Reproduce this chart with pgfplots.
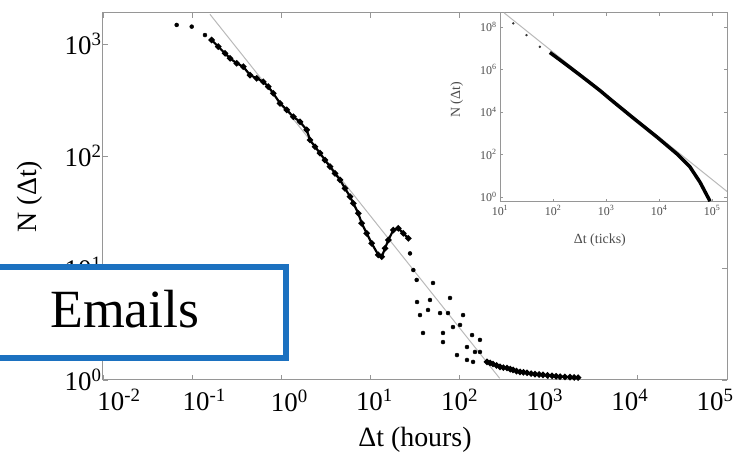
\documentclass[border=0pt]{standalone}
\usepackage{fontspec}
\setmainfont{Liberation Serif}
\usepackage{pgfplots}
\pgfplotsset{compat=1.18}
\definecolor{boxblue}{RGB}{28,113,192}
\definecolor{axgray}{RGB}{150,150,150}
\definecolor{fitgray}{RGB}{185,185,185}
\newcommand{\lsh}[2]{\hspace*{#1bp}#2}
\newcommand{\rsh}[2]{#2\hspace*{#1bp}}

\begin{document}
\begin{tikzpicture}[x=1bp,y=1bp]
\path[use as bounding box] (0,0) rectangle (736,461);

% main panel: inter-event times of emails
\begin{axis}[
  at={(103bp,81bp)}, anchor=south west,
  width=624bp, height=367bp, scale only axis,
  xmode=log, ymode=log,
  xmin=1e-2, xmax=1e5, ymin=1, ymax=1892,
  xtick={1e-2,1e-1,1,10,100,1000,1e4,1e5},
  xticklabels={\lsh{32}{10\textsuperscript{-2}},\lsh{24}{10\textsuperscript{-1}},\lsh{16}{10\textsuperscript{0}},\lsh{8}{10\textsuperscript{1}},10\textsuperscript{2},\rsh{8}{10\textsuperscript{3}},\rsh{16}{10\textsuperscript{4}},\rsh{24}{10\textsuperscript{5}}},
  ytick={1,10,100,1000},
  yticklabels={10\textsuperscript{0},10\textsuperscript{1},10\textsuperscript{2},10\textsuperscript{3}},
  xminorticks=false, yminorticks=false,
  tick align=inside, major tick length=5bp,
  axis line style={axgray, line width=1bp},
  every tick/.style={axgray, line width=0.8bp},
  ticklabel style={font=\fontsize{27}{29}\selectfont},
  xticklabel style={yshift=-6bp},
  yticklabel style={xshift=2bp},
  xlabel={Δt (hours)},
  ylabel={N (Δt)},
  label style={font=\fontsize{28}{30}\selectfont},
  xlabel style={at={(axis description cs:0.5,-0.1635)}, anchor=center},
  ylabel style={at={(axis description cs:-0.117,0.5)}, anchor=center},
]
% power-law guide, slope -1
\addplot[fitgray, line width=1bp] coordinates {(0.1585,1841) (281.8,1.035)};
% measured distribution: sparse head
\addplot[only marks, mark=*, mark size=2bp, black] coordinates {
(0.0671,1479) (0.0989,1429) (0.1393,1202) (0.1656,1086)
};
% dense part of the decay, down to the daily peak
\addplot[black, line width=2.2bp, mark=*, mark size=1.9bp] coordinates {
(0.1656,1086) (0.1963,946)
(0.2339,826) (0.2661,745) (0.3162,673) (0.3750,627) (0.4457,528)
(0.5297,494) (0.6281,460) (0.7145,416) (0.8128,363) (0.9683,295)
(1.151,258) (1.365,224) (1.622,202) (1.928,171) (2.099,139)
(2.388,121) (2.716,106) (3.090,92.0) (3.524,80.4) (4.009,70.0)
(4.560,61.1) (5.188,51.4) (5.902,43.4) (6.427,37.8) (7.311,30.8)
(7.980,25.1) (9.078,20.4) (10.33,16.6) (12.25,13.1) (13.40,12.6)
(14.59,15.0) (15.89,17.8) (18.07,21.8) (20.56,22.6) (23.39,20.4)
(26.61,18.4)
};
% scattered region after the peak
\addplot[only marks, mark=*, mark size=2bp, black] coordinates {
(27.80,13.5) (30.27,9.59) (33.04,7.82)
(50.35,7.35) (33.34,4.97) (46.56,5.18) (78.16,5.40) (35.97,3.80)
(44.26,4.22) (60.39,3.96) (74.13,3.96) (109.4,3.80) (38.90,2.63)
(65.16,2.63) (84.33,2.97) (101.2,3.10) (65.16,2.18) (121.1,1.97)
(138.0,2.52) (169.4,2.28) (93.54,1.67) (148.9,1.78) (169.4,1.78)
(141.6,1.45) (121.1,1.51)
};
% long tail
\addplot[black, line width=2.2bp, mark=*, mark size=1.9bp] coordinates {
(203.2,1.45) (220.0,1.42) (237.1,1.39) (260.0,1.35) (284.4,1.31)
(310.0,1.29) (340.4,1.28) (370.0,1.25) (398.1,1.23) (435.0,1.20)
(476.4,1.18) (520.0,1.17) (571.5,1.16) (635.0,1.14) (701.5,1.13)
(780.0,1.12) (863.0,1.11) (970.0,1.10) (1089,1.09) (1210,1.08)
(1340,1.07) (1520,1.065) (1734,1.06) (1930,1.055) (2138,1.05)
};
\end{axis}

% inset: simulated waiting times
\begin{axis}[
  at={(500bp,259bp)}, anchor=south west,
  width=227bp, height=189bp, scale only axis,
  axis background/.style={fill=white},
  xmode=log, ymode=log,
  xmin=10, xmax=190546, ymin=0.582, ymax=4.57e8,
  xtick={10,100,1000,1e4,1e5},
  xticklabels={10\textsuperscript{1},10\textsuperscript{2},10\textsuperscript{3},10\textsuperscript{4},10\textsuperscript{5}},
  ytick={1,100,1e4,1e6,1e8},
  yticklabels={10\textsuperscript{0},10\textsuperscript{2},10\textsuperscript{4},10\textsuperscript{6},10\textsuperscript{8}},
  xminorticks=false, yminorticks=false,
  tick align=inside, major tick length=3bp,
  axis line style={axgray, line width=1bp},
  every tick/.style={axgray, line width=0.6bp},
  ticklabel style={font=\fontsize{12}{13}\selectfont, text=black!70},
  xlabel={Δt (ticks)},
  ylabel={N (Δt)},
  label style={font=\fontsize{14}{15}\selectfont, text=black!70},
  xlabel style={at={(axis description cs:0.44,-0.20)}, anchor=center},
  ylabel style={at={(axis description cs:-0.19,0.54)}, anchor=center},
]
% power-law guide, slope -2
\addplot[fitgray, line width=1bp] coordinates {(12.02,4.57e8) (190500,1.82)};
\addplot[only marks, mark=*, mark size=1bp, black!80] coordinates {
(17.78,1.479e8) (31.62,4.169e7) (56.23,1.175e7)
};
\addplot[black, line width=3.5bp] coordinates {
(87.10,6.310e6) (134.9,2.818e6) (281.8,7.079e5) (501.2,2.344e5) (776.2,1.0e5)
(1202,3.981e4) (3236,5248) (9120,660.7) (21880,104.7) (38020,26.30)
(58880,5.012) (91200,0.631)
};
\end{axis}

% panel tag
\draw[boxblue, line width=6bp, fill=white] (-20,103) rectangle (286,194);
\node[anchor=base west, inner sep=0pt, font=\fontsize{54}{54}\selectfont] at (50,133) {Emails};
\end{tikzpicture}
\end{document}
